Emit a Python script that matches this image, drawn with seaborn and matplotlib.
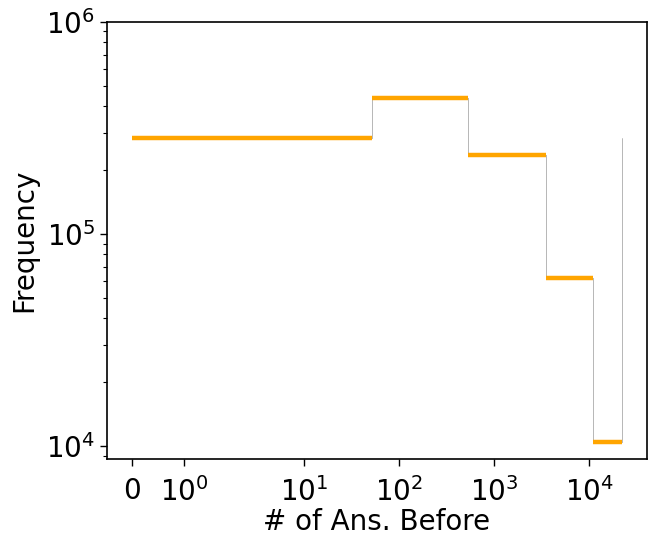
import numpy as np
import pandas as pd
import seaborn as sns
import matplotlib
matplotlib.use("Agg")
import matplotlib.pyplot as plt

# bin edges (# of answers before) and frequency per bin
bin_edges = [0, 52, 536, 3550, 11100, 22400]
freq = [2.84e5, 4.36e5, 2.35e5, 6.19e4, 1.048e4]
# the thin grey step line ends with a jump back up to the first bin level
step_y = [2.84e5, 4.36e5, 2.35e5, 6.19e4, 1.048e4, 2.84e5]

sns.set_style("ticks")
plt.rcParams['font.family'] = ['DejaVu Sans']
for k in ["text.color", "axes.labelcolor", "xtick.color", "ytick.color", "axes.edgecolor"]:
    plt.rcParams[k] = "black"

fig = plt.figure(figsize=(6.65, 5.47), dpi=100)
ax = fig.add_axes([107/665, 1 - 459/547, 540/665, (459 - 21.7)/547])

step_df = pd.DataFrame({"edge": bin_edges, "freq": step_y})
sns.lineplot(data=step_df, x="edge", y="freq", drawstyle="steps-post",
             color="grey", lw=0.5, alpha=0.8, ax=ax, sort=False)
ax.hlines(freq, bin_edges[:-1], bin_edges[1:], color="orange", lw=3.2, zorder=3)

ax.set_xscale("symlog")
ax.set_yscale("log")
ax.set_ylim(top=1e6)

ax.set_xlabel("# of Ans. Before", fontsize=20, labelpad=1)
ax.set_ylabel("Frequency", fontsize=20, labelpad=6)
ax.tick_params(axis="both", which="major", labelsize=20, length=5, width=1)
ax.tick_params(axis="x", which="major", pad=8)
ax.tick_params(axis="y", which="minor", length=3, width=0.8)
for s in ax.spines.values():
    s.set_visible(True)
    s.set_linewidth(1.2)
    s.set_color("black")

fig.savefig("out.png", dpi=100, facecolor="white")
